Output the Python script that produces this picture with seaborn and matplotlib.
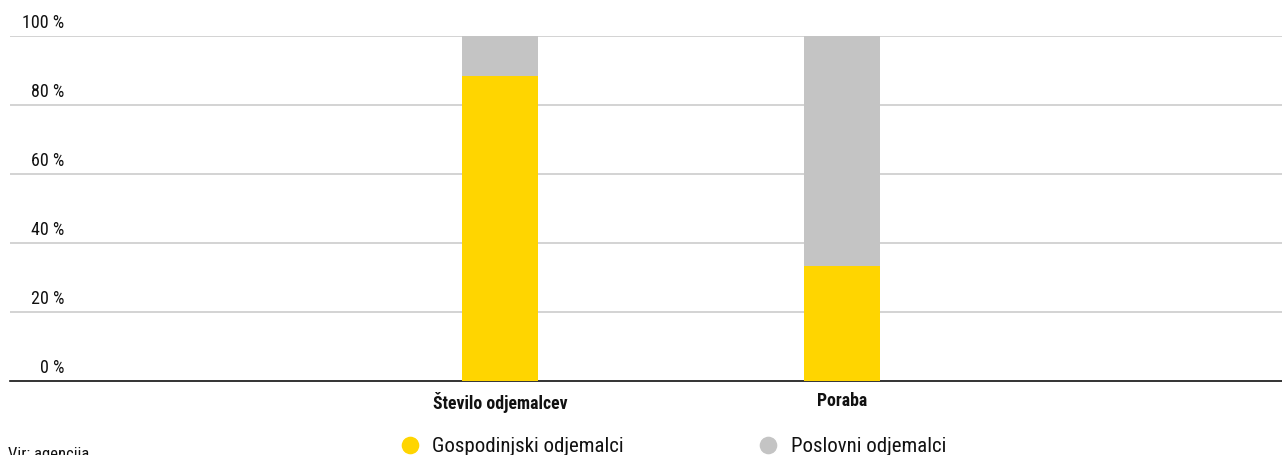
import pandas as pd
import numpy as np
import matplotlib
matplotlib.use('Agg')
import matplotlib.pyplot as plt
from matplotlib.lines import Line2D
import seaborn as sns

# Podatki
kategorije = ['Število odjemalcev', 'Poraba']
gospodinjski = [88.5, 33.4]
poslovni = [11.5, 66.6]
serije = ['Gospodinjski odjemalci', 'Poslovni odjemalci']
barve = ['#FFD500', '#C4C4C4']
y_ticks = [0, 20, 40, 60, 80, 100]
vir = 'Vir: agencija'

sns.set_theme(style='white')
plt.rcParams['font.family'] = ['Roboto Condensed', 'Liberation Sans Narrow', 'Roboto', 'DejaVu Sans']
plt.rcParams['font.stretch'] = 'condensed'

df = pd.DataFrame({'kategorija': kategorije,
                   'gosp': gospodinjski,
                   'skupaj': np.array(gospodinjski) + np.array(poslovni)})

fig = plt.figure(figsize=(12.82, 4.55), dpi=100)
ax = fig.add_axes([10 / 1282, 1 - 381 / 455, 1 - 10 / 1282, (381 - 36) / 455])

# Mreža
for t in y_ticks[1:]:
    ax.axhline(t, color='#CCCCCC', lw=1.2, zorder=0)

sns.barplot(data=df, x='kategorija', y='skupaj', color=barve[1], width=0.222,
            saturation=1, linewidth=0, ax=ax, zorder=2)
sns.barplot(data=df, x='kategorija', y='gosp', color=barve[0], width=0.222,
            saturation=1, linewidth=0, ax=ax, zorder=3)

ax.set_xlim(-1.433, 2.286)
ax.set_ylim(0, 100)
ax.set_xlabel('')
ax.set_ylabel('')
ax.set_yticks([])
for s in ['top', 'right', 'left']:
    ax.spines[s].set_visible(False)
ax.spines['bottom'].set_color('#111111')
ax.spines['bottom'].set_linewidth(1.2)
ax.tick_params(axis='x', length=0, pad=8)
for lab in ax.get_xticklabels():
    lab.set_fontweight('bold')
    lab.set_fontsize(12.8)
    lab.set_color('#111111')

# Oznake y osi nad mrežnimi črtami, desno poravnane
for t in y_ticks:
    ax.text(54 / 1272, t + 1.2, f'{t} %', transform=ax.get_yaxis_transform(),
            ha='right', va='bottom', fontsize=13, color='#111111')

# Legenda - dva ločena vnosa
for i, (ime, c) in enumerate(zip(serije, barve)):
    h = Line2D([0], [0], marker='o', color='w', markerfacecolor=c, markersize=13.7, lw=0)
    x0 = [397, 755.5][i]
    leg = fig.legend([h], [ime], loc='center left', bbox_to_anchor=(x0 / 1282, 1 - 447 / 455),
                     frameon=False, fontsize=15, handletextpad=0.5, handlelength=1.2,
                     borderpad=0, borderaxespad=0)
    for tx in leg.get_texts():
        tx.set_color('#111111')

fig.text(8 / 1282, 1 - 462 / 455, vir, fontsize=12, ha='left', va='bottom', color='#111111')

plt.savefig('out.png', dpi=100)
